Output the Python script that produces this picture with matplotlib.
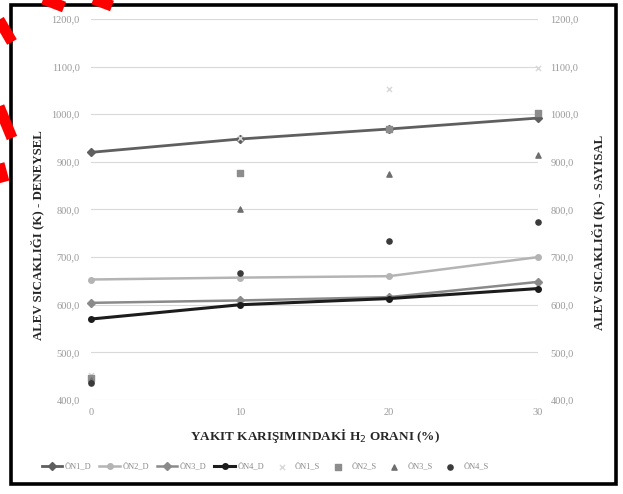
import matplotlib
matplotlib.use("Agg")
import matplotlib.pyplot as plt
from matplotlib.patches import Rectangle

plt.rcParams['font.family'] = ['Liberation Serif', 'DejaVu Serif']

# H2 orani (%) - kategori ekseni
oranlar = ['0', '10', '20', '30']

# deneysel (D) seriler - cizgi
on1_d = [920, 948, 969, 992]
on2_d = [653, 657, 660, 700]
on3_d = [604, 609, 616, 648]
on4_d = [570, 600, 613, 634]

# sayisal (S) seriler - sadece isaret
on1_s = [453, 950, 1053, 1097]
on2_s = [447, 877, 968, 1003]
on3_s = [441, 800, 875, 915]
on4_s = [436, 667, 734, 773]

W, H = 623, 494
fig = plt.figure(figsize=(W / 100, H / 100), dpi=100)

# arka plan: kirmizi isaretler + siyah cerceve
bg = fig.add_axes([0, 0, 1, 1])
bg.set_xlim(0, W)
bg.set_ylim(H, 0)
bg.axis('off')
kirmizi = [((-2, 18), (12, 42)), ((-2, 104), (12, 138)), ((-2, 160), (4, 182)),
           ((38, -3), (64, 7)), ((88, -3), (112, 6))]
for (x0, y0), (x1, y1) in kirmizi:
    bg.plot([x0, x1], [y0, y1], color='#ff0000', lw=8, solid_capstyle='butt')
bg.add_patch(Rectangle((11, 5), 605, 479, facecolor='white', edgecolor='black', lw=2.6))

ax = fig.add_axes([91 / W, 1 - 400 / H, (538 - 91) / W, (400 - 19) / H])
ax.set_facecolor('none')
x = list(range(len(oranlar)))

stil_d = [
    ('ÖN1_D', on1_d, '#5f5f5f', 'D', 2.0),
    ('ÖN2_D', on2_d, '#b4b4b4', 'o', 1.8),
    ('ÖN3_D', on3_d, '#8a8a8a', 'D', 1.8),
    ('ÖN4_D', on4_d, '#1c1c1c', 'o', 2.2),
]
for ad, y, renk, mk, lw in stil_d:
    ax.plot(x, y, color=renk, lw=lw, marker=mk, ms=4, label=ad, clip_on=False, zorder=3)

stil_s = [
    ('ÖN1_S', on1_s, '#d8d8d8', 'x'),
    ('ÖN2_S', on2_s, '#8c8c8c', 's'),
    ('ÖN3_S', on3_s, '#6e6e6e', '^'),
    ('ÖN4_S', on4_s, '#3a3a3a', 'o'),
]
for ad, y, renk, mk in stil_s:
    ax.scatter(x, y, color=renk, marker=mk, s=14, label=ad, clip_on=False, zorder=4, linewidths=1)

ax.set_xlim(0, 3)
ax.set_ylim(400, 1200)
ax.set_yticks(range(400, 1201, 100))
ax.set_yticklabels([f'{v},0' for v in range(400, 1201, 100)])
ax.set_xticks(x)
ax.set_xticklabels(oranlar)
ax.grid(axis='y', color='#d9d9d9', lw=0.8)
ax.set_axisbelow(True)
for s in ax.spines.values():
    s.set_visible(False)
ax.tick_params(length=0, labelsize=7.5, labelcolor='#999999')
ax.tick_params(axis='y', pad=8)
ax.tick_params(axis='x', pad=6)

ax2 = ax.twinx()
ax2.set_ylim(400, 1200)
ax2.set_yticks(range(400, 1201, 100))
ax2.set_yticklabels([f'{v},0' for v in range(400, 1201, 100)])
for s in ax2.spines.values():
    s.set_visible(False)
ax2.tick_params(length=0, labelsize=7.5, labelcolor='#999999', pad=9)

fig.text(315 / W, 1 - 436 / H, 'YAKIT KARIŞIMINDAKİ H$_2$ ORANI (%)', ha='center', va='center',
         fontsize=9.5, fontweight='bold', color='#262626')
fig.text(37 / W, 1 - 235 / H, 'ALEV SICAKLIĞI (K) - DENEYSEL', rotation=90, ha='center', va='center',
         fontsize=9.3, fontweight='bold', color='#262626')
fig.text(598 / W, 1 - 232 / H, 'ALEV SICAKLIĞI (K) - SAYISAL', rotation=90, ha='center', va='center',
         fontsize=9.3, fontweight='bold', color='#262626')

h, l = ax.get_legend_handles_labels()
leg = fig.legend(h, l, loc='center', bbox_to_anchor=(265 / W, 1 - 467 / H), ncol=8, frameon=False,
                 fontsize=6, handlelength=2.5, columnspacing=0.9, handletextpad=0.3, labelcolor='#8a8a8a')

fig.savefig('out.png', dpi=100)
